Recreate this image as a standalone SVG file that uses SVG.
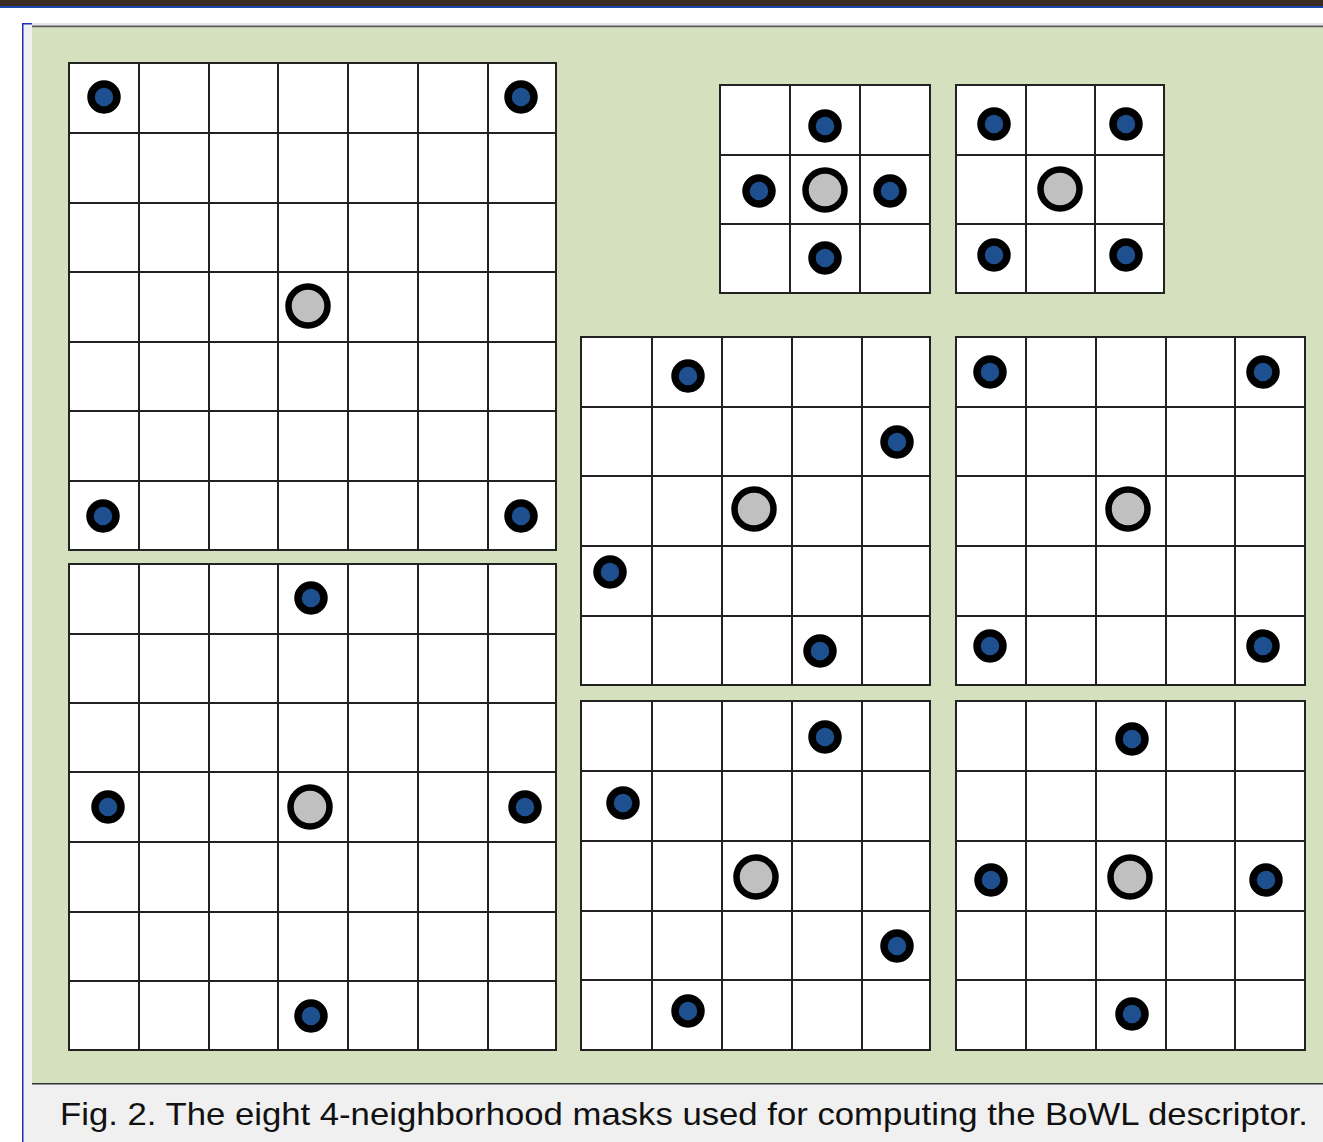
<svg xmlns="http://www.w3.org/2000/svg" width="1323" height="1142" viewBox="0 0 1323 1142">
<defs>
<style>
.cell{fill:#ffffff;stroke:#222;stroke-width:2}
.gl{stroke:#222;stroke-width:2;fill:none}
.nb{fill:#1e4f8f;stroke:#000;stroke-width:7.5}
.ct{fill:#c0c0c0;stroke:#000;stroke-width:6.5}
.cap{font-family:"Liberation Sans",Arial,sans-serif;font-size:32px;fill:#111}
</style>
</defs>
<rect x="0" y="0" width="1323" height="1142" fill="#ffffff"/>
<rect x="0" y="0" width="1323" height="6" fill="#3b2c22"/>
<rect x="0" y="6" width="1323" height="2" fill="#1d44a8"/>
<rect x="23" y="23" width="1300" height="1119" fill="#f0f0f0"/>
<rect x="22" y="23" width="10" height="1.5" fill="#1d2fc0"/>
<rect x="22" y="23" width="1.5" height="1119" fill="#1d2fc0"/>
<rect x="32" y="23" width="1291" height="2" fill="#e4e6ee"/>
<rect x="32" y="25.5" width="1291" height="2" fill="#555"/>
<rect x="32" y="27.5" width="1291" height="1056" fill="#d5e1be"/>
<rect x="32" y="1083" width="1291" height="1.5" fill="#333"/>
<g id="mask-7x7-diagonal">
<rect class="cell" x="69" y="63" width="487" height="487"/>
<path class="gl" d="M139 63V550M209 63V550M278 63V550M348 63V550M418 63V550M488 63V550M69 133H556M69 203H556M69 272H556M69 342H556M69 411H556M69 481H556"/>
<circle class="nb" cx="104" cy="97" r="13"/>
<circle class="nb" cx="521" cy="97" r="13"/>
<circle class="nb" cx="103" cy="516" r="13"/>
<circle class="nb" cx="521" cy="516" r="13"/>
<circle class="ct" cx="308" cy="306" r="19.5"/>
</g>
<g id="mask-7x7-cross">
<rect class="cell" x="69" y="564" width="487" height="486"/>
<path class="gl" d="M139 564V1050M209 564V1050M278 564V1050M348 564V1050M418 564V1050M488 564V1050M69 634H556M69 703H556M69 772H556M69 842H556M69 912H556M69 981H556"/>
<circle class="nb" cx="311" cy="598" r="13"/>
<circle class="nb" cx="108" cy="807" r="13"/>
<circle class="nb" cx="525" cy="807" r="13"/>
<circle class="nb" cx="311" cy="1016" r="13"/>
<circle class="ct" cx="310" cy="807" r="19.5"/>
</g>
<g id="mask-3x3-cross">
<rect class="cell" x="720" y="85" width="210" height="208"/>
<path class="gl" d="M790 85V293M860 85V293M720 155H930M720 224H930"/>
<circle class="nb" cx="825" cy="126" r="13"/>
<circle class="nb" cx="759" cy="191" r="13"/>
<circle class="nb" cx="890" cy="191" r="13"/>
<circle class="nb" cx="825" cy="258" r="13"/>
<circle class="ct" cx="825" cy="190" r="19.5"/>
</g>
<g id="mask-3x3-diagonal">
<rect class="cell" x="956" y="85" width="208" height="208"/>
<path class="gl" d="M1026 85V293M1095 85V293M956 155H1164M956 224H1164"/>
<circle class="nb" cx="994" cy="124" r="13"/>
<circle class="nb" cx="1126" cy="124" r="13"/>
<circle class="nb" cx="994" cy="255" r="13"/>
<circle class="nb" cx="1126" cy="255" r="13"/>
<circle class="ct" cx="1060" cy="189" r="19.5"/>
</g>
<g id="mask-5x5-knight-a">
<rect class="cell" x="581" y="337" width="349" height="348"/>
<path class="gl" d="M652 337V685M722 337V685M792 337V685M862 337V685M581 407H930M581 476H930M581 546H930M581 616H930"/>
<circle class="nb" cx="688" cy="376" r="13"/>
<circle class="nb" cx="897" cy="442" r="13"/>
<circle class="nb" cx="610" cy="572" r="13"/>
<circle class="nb" cx="820" cy="651" r="13"/>
<circle class="ct" cx="754" cy="509" r="19.5"/>
</g>
<g id="mask-5x5-diagonal">
<rect class="cell" x="956" y="337" width="349" height="348"/>
<path class="gl" d="M1026 337V685M1096 337V685M1166 337V685M1235 337V685M956 407H1305M956 476H1305M956 546H1305M956 616H1305"/>
<circle class="nb" cx="990" cy="372" r="13"/>
<circle class="nb" cx="1263" cy="372" r="13"/>
<circle class="nb" cx="990" cy="646" r="13"/>
<circle class="nb" cx="1263" cy="646" r="13"/>
<circle class="ct" cx="1128" cy="509" r="19.5"/>
</g>
<g id="mask-5x5-knight-b">
<rect class="cell" x="581" y="701" width="349" height="349"/>
<path class="gl" d="M652 701V1050M722 701V1050M792 701V1050M862 701V1050M581 771H930M581 841H930M581 911H930M581 980H930"/>
<circle class="nb" cx="825" cy="737" r="13"/>
<circle class="nb" cx="623" cy="803" r="13"/>
<circle class="nb" cx="897" cy="946" r="13"/>
<circle class="nb" cx="688" cy="1011" r="13"/>
<circle class="ct" cx="756" cy="877" r="19.5"/>
</g>
<g id="mask-5x5-cross">
<rect class="cell" x="956" y="701" width="349" height="349"/>
<path class="gl" d="M1026 701V1050M1096 701V1050M1166 701V1050M1235 701V1050M956 771H1305M956 841H1305M956 911H1305M956 980H1305"/>
<circle class="nb" cx="1132" cy="739" r="13"/>
<circle class="nb" cx="991" cy="880" r="13"/>
<circle class="nb" cx="1266" cy="880" r="13"/>
<circle class="nb" cx="1132" cy="1014" r="13"/>
<circle class="ct" cx="1130" cy="877" r="19.5"/>
</g>
<g id="connectors"></g>
<text class="cap" x="60" y="1125" textLength="1248" lengthAdjust="spacingAndGlyphs">Fig. 2. The eight 4-neighborhood masks used for computing the BoWL descriptor.</text>
</svg>
